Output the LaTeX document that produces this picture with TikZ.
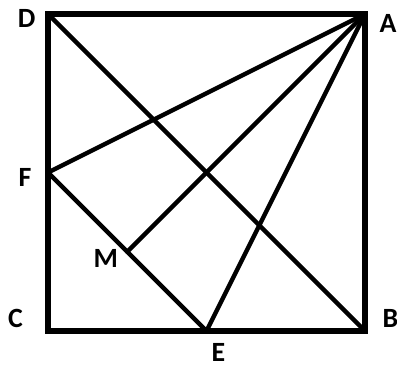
\documentclass[tikz,border=0pt]{standalone}
\usepackage{fontspec}
\setmainfont{Carlito}
\usepackage{tikz}
\usetikzlibrary{calc}

\tikzset{
  side/.style={line width=4.8pt,line join=miter},
  seg/.style={line width=3.1pt,line cap=round},
  lbl/.style={font=\fontsize{20}{20}\selectfont\bfseries,inner sep=0pt}
}

\begin{document}
\begin{tikzpicture}[x=2cm,y=2cm]
  \useasboundingbox (-0.606,-0.467) rectangle (4.404,4.177);
  \coordinate (C) at (0,0);
  \coordinate (B) at (4,0);
  \coordinate (A) at (4,4);
  \coordinate (D) at (0,4);
  \coordinate (F) at (0,2);
  \coordinate (E) at (2,0);
  \coordinate (M) at (1,1);
  \draw[seg] (D) -- (B);
  \draw[seg] (A) -- (F);
  \draw[seg] (A) -- (M);
  \draw[seg] (A) -- (E);
  \draw[seg] (F) -- (E);
  \draw[side] (C) -- (B) -- (A) -- (D) -- cycle;
  \node[lbl] (lD) at (-0.27,3.95) {D};
  \node[lbl] (lA) at (4.29,3.88) {A};
  \node[lbl] (lB) at (4.32,0.16) {B};
  \node[lbl] (lC) at (-0.41,0.16) {C};
  \node[lbl] (lE) at (2.15,-0.27) {E};
  \node[lbl] (lF) at (-0.29,1.94) {F};
  \node[lbl] (lM) at (0.73,0.92) {M};
\end{tikzpicture}
\end{document}
